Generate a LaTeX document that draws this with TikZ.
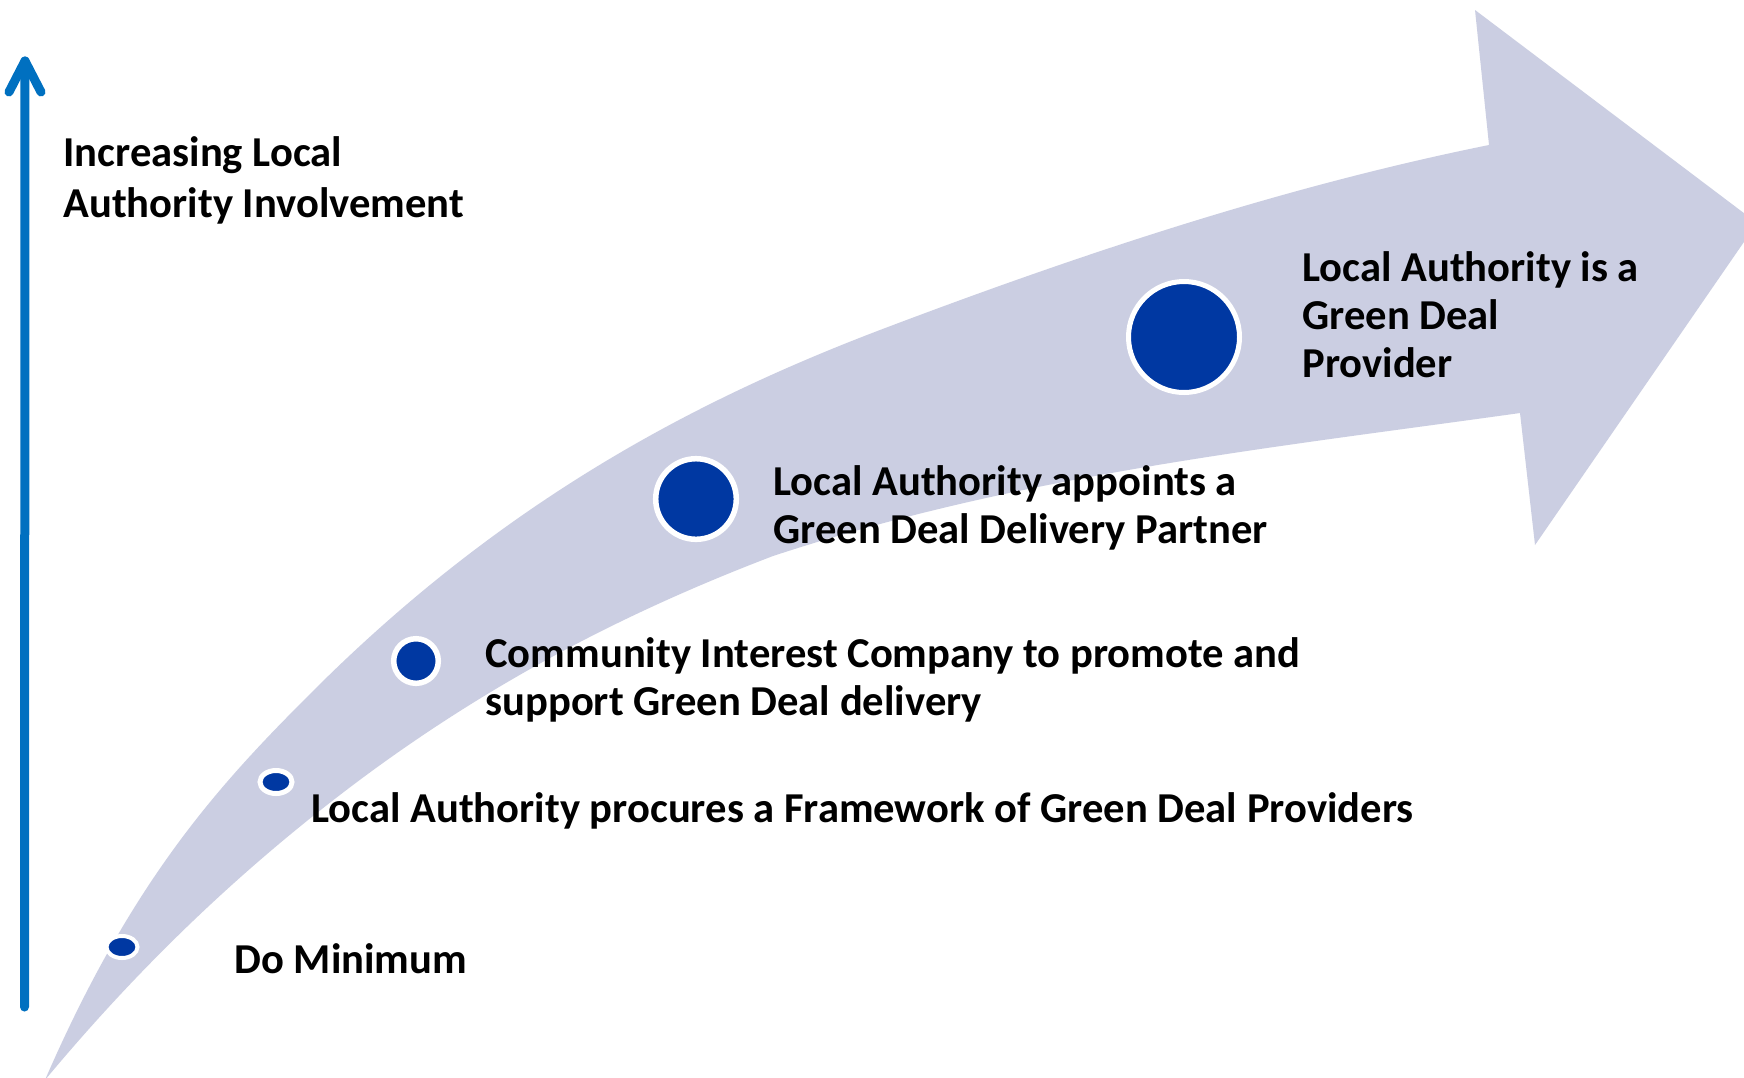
\documentclass[tikz,border=0pt]{standalone}
\usepackage{fontspec}
\setmainfont{Carlito}
\definecolor{bandcol}{RGB}{203,206,226}
\definecolor{dotcol}{RGB}{0,56,162}
\definecolor{axiscol}{RGB}{0,112,192}
\tikzset{
  band/.style={fill=bandcol},
  dotring/.style={fill=dotcol, draw=white},
  lbl/.style={anchor=base west, inner sep=0pt, align=left, font=\fontsize{21.3}{23.8}\selectfont\bfseries, text=black},
  axisline/.style={draw=axiscol, line width=4.5pt, line cap=round, line join=round}
}
\begin{document}
\begin{tikzpicture}[x=0.5pt,y=-0.5pt]
\useasboundingbox (0,0) rectangle (1744,1077);
\clip (0,0) rectangle (1744,1077);
\fill[white] (0,0) rectangle (1744,1077);
% curved arrow band
\fill[band] (45,1080)
  .. controls (134,875) and (223,781) .. (312,692)
  .. controls (501,503) and (691,402) .. (880,330)
  .. controls (1083,253) and (1286,186) .. (1489,145)
  -- (1475,10) -- (1757,223) -- (1535,545) -- (1520,413)
  .. controls (1271,448) and (1022,474) .. (773,556)
  .. controls (634,609) and (496,678) .. (357,782)
  .. controls (253,860) and (149,955) .. (45,1080) -- cycle;
% vertical axis arrow
\coordinate (axisbot) at (24.5,1007);
\coordinate (axistop) at (25,61);
\coordinate (barbL) at (9,92);
\coordinate (barbR) at (41,92);
\draw[axisline] (axisbot) -- (axistop);
\draw[axisline] (barbL) -- (axistop) -- (barbR);
% dots
\draw[dotring, line width=2pt] (122,947) ellipse [x radius=15.5, y radius=11] coordinate (d1);
\draw[dotring, line width=2.5pt] (276,782) ellipse [x radius=16, y radius=11.5] coordinate (d2);
\draw[dotring, line width=2.75pt] (416,661) circle [radius=22.3] coordinate (d3);
\draw[dotring, line width=2.75pt] (696,499) circle [radius=40.3] coordinate (d4);
\draw[dotring, line width=2.5pt] (1184,337) circle [radius=55.5] coordinate (d5);
% labels (base anchor = baseline of last line)
\node[lbl, font=\fontsize{21.3}{25.5}\selectfont\bfseries] (axislbl) at (63,217) {Increasing Local\\Authority Involvement};
\node[lbl] (t1) at (234,973) {Do Minimum};
\node[lbl] (t2) at (311,822) {Local Authority procures a Framework of Green Deal Providers};
\node[lbl] (t3) at (485,715) {Community Interest Company to promote and\\support Green Deal delivery};
\node[lbl] (t4) at (773,543) {Local Authority appoints a\\Green Deal Delivery Partner};
\node[lbl] (t5) at (1302,377) {Local Authority is a\\Green Deal\\Provider};
\end{tikzpicture}
\end{document}
